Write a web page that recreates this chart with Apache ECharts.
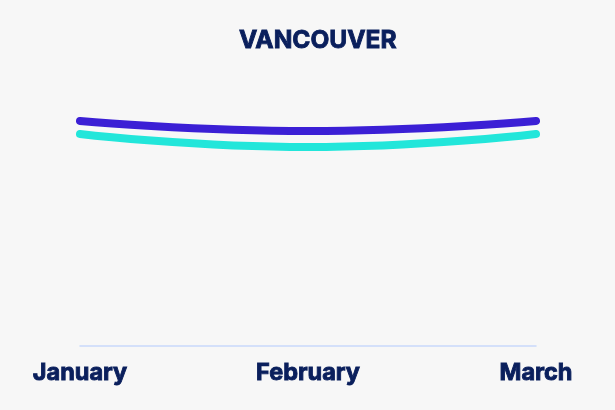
<!DOCTYPE html>
<html><head><meta charset="utf-8">
<script src="https://cdn.jsdelivr.net/npm/echarts@6/dist/echarts.min.js"></script>
<style>html,body{margin:0;padding:0;background:#f7f7f7}#c{width:615px;height:410px}</style>
</head><body><div id="c"></div>
<script>
const categories = ['January', 'February', 'March'];
const seriesA = [91.5, 87.4, 91.5];
const seriesB = [86.2, 80.9, 86.2];
const chart = echarts.init(document.getElementById('c'), null, {renderer: 'canvas'});
chart.setOption({
  backgroundColor: '#f7f7f7',
  animation: false,
  title: {text: 'VANCOUVER', left: 234, top: 23,
    textStyle: {fontFamily: 'Inter', fontWeight: 'bold', fontSize: 24.5, color: '#0a1f5c',
      textBorderColor: '#0a1f5c', textBorderWidth: 0.9}},
  grid: {left: 80, right: 79, top: 100, bottom: 64},
  xAxis: {type: 'category', data: categories, boundaryGap: false,
    axisLine: {lineStyle: {color: '#c9d9fb', width: 1.5}},
    axisTick: {show: false},
    axisLabel: {fontFamily: 'Inter', fontWeight: 'bold', fontSize: 23.5, color: '#0a1f5c', margin: 15,
      textBorderColor: '#0a1f5c', textBorderWidth: 0.9}},
  yAxis: {type: 'value', min: 0, max: 100, show: false, splitLine: {show: false}},
  series: [
    {type: 'line', data: seriesA, smooth: true, symbol: 'none',
      lineStyle: {color: '#3b1fd5', width: 8, cap: 'round', join: 'round'}},
    {type: 'line', data: seriesB, smooth: true, symbol: 'none',
      lineStyle: {color: '#22e6da', width: 8, cap: 'round', join: 'round'}}
  ]
});
</script></body></html>
